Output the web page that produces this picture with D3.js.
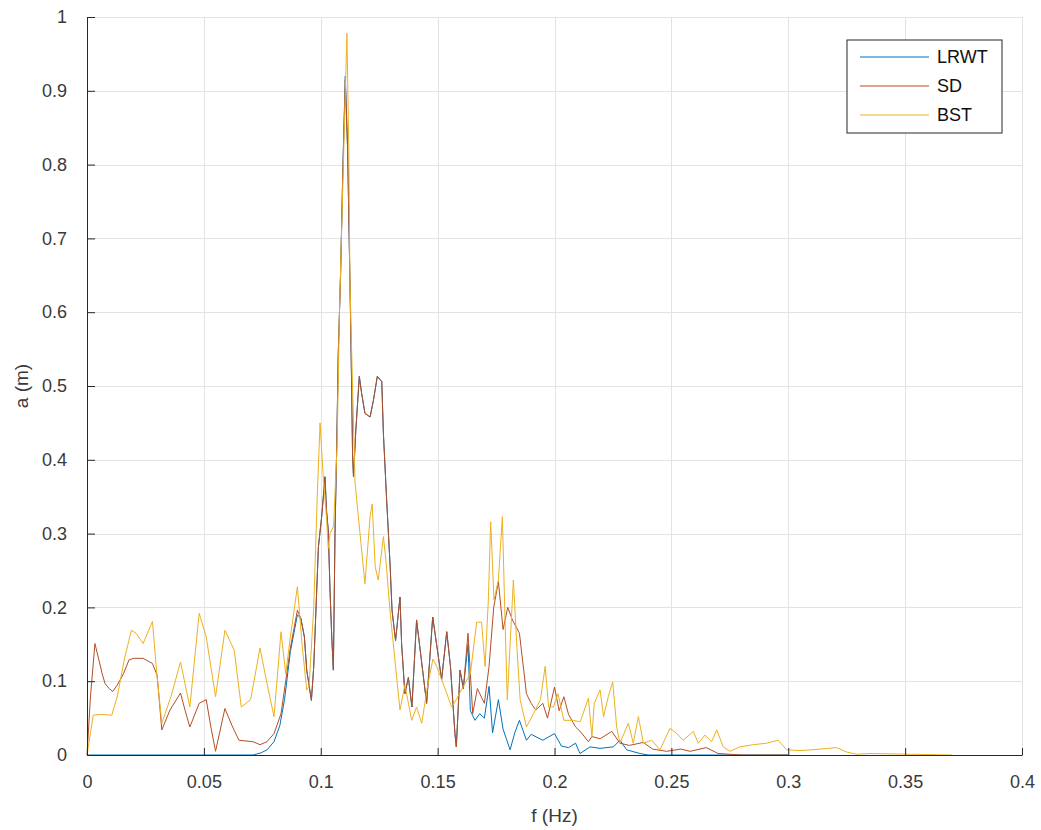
<!DOCTYPE html>
<html>
<head>
<meta charset="utf-8">
<script src="https://d3js.org/d3.v7.min.js"></script>
<style>
  body { margin: 0; background: #fff; }
  svg { font-family: "Liberation Sans", Arial, Helvetica, sans-serif; }
  .grid line { stroke: #e3e3e3; stroke-width: 1; }
  .tick text { fill: #3a3a3a; }
</style>
</head>
<body>
<script>
// spectrum amplitude of three methods, f in Hz, a in m

var seriesNames = ["LRWT", "SD", "BST"];
var seriesColors = ["#0072BD", "#B44E26", "#EDB120"];

var xTicks = [0, 0.05, 0.1, 0.15, 0.2, 0.25, 0.3, 0.35, 0.4];
var yTicks = [0, 0.1, 0.2, 0.3, 0.4, 0.5, 0.6, 0.7, 0.8, 0.9, 1];

var lrwt = [
  [0, 0], [0.071, 0], [0.0745, 0.003], [0.077, 0.007], [0.080, 0.018], [0.0825, 0.04],
  [0.0845, 0.075], [0.087, 0.14], [0.090, 0.19], [0.0915, 0.185], [0.093, 0.16], [0.094, 0.115],
  [0.096, 0.074], [0.097, 0.12], [0.099, 0.282], [0.1004, 0.323], [0.1018, 0.377], [0.1025, 0.33],
  [0.1032, 0.305], [0.104, 0.22], [0.1047, 0.16], [0.1054, 0.115], [0.1061, 0.30], [0.1068, 0.413],
  [0.1075, 0.544], [0.1085, 0.653], [0.1095, 0.80], [0.1105, 0.92], [0.1115, 0.82], [0.1125, 0.639],
  [0.1132, 0.504], [0.1136, 0.409], [0.114, 0.377], [0.115, 0.44], [0.1165, 0.513], [0.1175, 0.49],
  [0.1189, 0.463], [0.1211, 0.458], [0.1225, 0.48], [0.1242, 0.513], [0.1261, 0.506], [0.1268, 0.436],
  [0.1282, 0.345], [0.1297, 0.255], [0.1305, 0.196], [0.132, 0.155], [0.1339, 0.214], [0.1346, 0.15],
  [0.136, 0.083], [0.1375, 0.105], [0.139, 0.065], [0.141, 0.183], [0.143, 0.13], [0.1453, 0.07],
  [0.1479, 0.187], [0.150, 0.14], [0.1517, 0.102], [0.1539, 0.167], [0.1555, 0.12], [0.1574, 0.029],
  [0.158, 0.011], [0.1596, 0.115], [0.161, 0.09], [0.163, 0.15], [0.164, 0.06], [0.166, 0.047],
  [0.168, 0.056], [0.170, 0.05], [0.172, 0.093], [0.1735, 0.03], [0.176, 0.075], [0.178, 0.035],
  [0.181, 0.007], [0.183, 0.03], [0.185, 0.047], [0.188, 0.02], [0.190, 0.028], [0.195, 0.02],
  [0.200, 0.029], [0.203, 0.012], [0.206, 0.01], [0.209, 0.016], [0.2109, 0.002], [0.2152, 0.011],
  [0.2195, 0.009], [0.2252, 0.011], [0.228, 0.02], [0.2309, 0.007], [0.2366, 0.002], [0.24, 0],
  [0.30, 0]
];

var sd = [
  [0, 0], [0.0015, 0.08], [0.0034, 0.151], [0.005, 0.13], [0.0065, 0.11], [0.0077, 0.097],
  [0.0095, 0.09], [0.011, 0.086], [0.013, 0.095], [0.0156, 0.11], [0.018, 0.129], [0.020, 0.131],
  [0.024, 0.131], [0.028, 0.124], [0.030, 0.108], [0.032, 0.034], [0.0355, 0.061], [0.040, 0.084],
  [0.042, 0.06], [0.044, 0.038], [0.048, 0.07], [0.051, 0.075], [0.053, 0.038], [0.055, 0.005],
  [0.059, 0.063], [0.062, 0.04], [0.065, 0.020], [0.068, 0.019], [0.071, 0.018], [0.074, 0.014],
  [0.077, 0.018], [0.080, 0.029], [0.083, 0.056], [0.085, 0.1], [0.087, 0.145], [0.090, 0.196],
  [0.0915, 0.185], [0.093, 0.16], [0.094, 0.115], [0.096, 0.074], [0.097, 0.12], [0.099, 0.282],
  [0.1004, 0.323], [0.1018, 0.377], [0.1025, 0.33], [0.1032, 0.305], [0.104, 0.22], [0.1047, 0.16],
  [0.1054, 0.115], [0.1061, 0.30], [0.1068, 0.413], [0.1075, 0.544], [0.1085, 0.653], [0.1095, 0.80],
  [0.1105, 0.915], [0.1115, 0.82], [0.1125, 0.639], [0.1132, 0.504], [0.1136, 0.409], [0.114, 0.377],
  [0.115, 0.44], [0.1165, 0.513], [0.1175, 0.49], [0.1189, 0.463], [0.1211, 0.458], [0.1225, 0.48],
  [0.1242, 0.513], [0.1261, 0.506], [0.1268, 0.436], [0.1282, 0.345], [0.1297, 0.255], [0.1305, 0.196],
  [0.132, 0.155], [0.1339, 0.214], [0.1346, 0.15], [0.136, 0.083], [0.1375, 0.105], [0.139, 0.065],
  [0.141, 0.183], [0.143, 0.13], [0.1453, 0.07], [0.1479, 0.187], [0.150, 0.14], [0.1517, 0.102],
  [0.1539, 0.167], [0.1555, 0.12], [0.1574, 0.029], [0.158, 0.011], [0.1596, 0.115], [0.161, 0.09],
  [0.163, 0.165], [0.165, 0.056], [0.167, 0.09], [0.170, 0.07], [0.172, 0.12], [0.174, 0.2],
  [0.176, 0.235], [0.178, 0.17], [0.180, 0.2], [0.182, 0.183], [0.185, 0.165], [0.188, 0.083],
  [0.190, 0.07], [0.192, 0.061], [0.195, 0.07], [0.197, 0.05], [0.200, 0.092], [0.202, 0.06],
  [0.204, 0.079], [0.206, 0.055], [0.209, 0.038], [0.211, 0.032], [0.2145, 0.018], [0.216, 0.025],
  [0.2195, 0.022], [0.2245, 0.032], [0.228, 0.016], [0.232, 0.013], [0.238, 0.017], [0.242, 0.008],
  [0.248, 0.005], [0.254, 0.008], [0.258, 0.005], [0.265, 0.010], [0.270, 0.002], [0.280, 0],
  [0.30, 0]
];

var bst = [
  [0, 0], [0.0027, 0.054], [0.006, 0.055], [0.0106, 0.054], [0.013, 0.08], [0.016, 0.13],
  [0.019, 0.169], [0.021, 0.165], [0.024, 0.151], [0.028, 0.181], [0.030, 0.106], [0.032, 0.043],
  [0.036, 0.08], [0.040, 0.126], [0.044, 0.065], [0.048, 0.192], [0.051, 0.16], [0.055, 0.079],
  [0.059, 0.169], [0.063, 0.142], [0.066, 0.065], [0.070, 0.075], [0.074, 0.145], [0.077, 0.097],
  [0.080, 0.052], [0.083, 0.167], [0.085, 0.11], [0.087, 0.16], [0.090, 0.228], [0.092, 0.15],
  [0.094, 0.088], [0.095, 0.093], [0.097, 0.2], [0.0985, 0.35], [0.0997, 0.45], [0.101, 0.38],
  [0.1025, 0.32], [0.1032, 0.28], [0.104, 0.30], [0.1055, 0.31], [0.107, 0.42], [0.108, 0.6],
  [0.1095, 0.78], [0.1112, 0.978], [0.112, 0.82], [0.1125, 0.64], [0.1132, 0.55], [0.114, 0.45],
  [0.1147, 0.368], [0.1168, 0.30], [0.1189, 0.232], [0.1211, 0.323], [0.122, 0.34], [0.1233, 0.255],
  [0.1246, 0.237], [0.1268, 0.296], [0.128, 0.26], [0.1296, 0.196], [0.132, 0.12], [0.1339, 0.061],
  [0.136, 0.095], [0.1389, 0.047], [0.141, 0.065], [0.1432, 0.043], [0.1455, 0.09], [0.148, 0.13],
  [0.1496, 0.12], [0.152, 0.1], [0.156, 0.065], [0.158, 0.075], [0.161, 0.093], [0.164, 0.11],
  [0.1667, 0.18], [0.1688, 0.18], [0.1703, 0.12], [0.1717, 0.21], [0.1727, 0.316], [0.1741, 0.21],
  [0.176, 0.237], [0.1777, 0.323], [0.1788, 0.187], [0.1798, 0.075], [0.1824, 0.237], [0.184, 0.142],
  [0.1853, 0.075], [0.188, 0.038], [0.191, 0.056], [0.194, 0.075], [0.196, 0.12], [0.1975, 0.065],
  [0.1995, 0.065], [0.2015, 0.083], [0.204, 0.047], [0.208, 0.047], [0.211, 0.045], [0.2145, 0.077],
  [0.216, 0.025], [0.217, 0.07], [0.2195, 0.088], [0.221, 0.052], [0.223, 0.079], [0.2249, 0.099],
  [0.2266, 0.038], [0.228, 0.016], [0.2316, 0.043], [0.2337, 0.016], [0.2359, 0.052], [0.238, 0.016],
  [0.2416, 0.02], [0.2451, 0.007], [0.2494, 0.036], [0.2523, 0.029], [0.2551, 0.02], [0.2594, 0.032],
  [0.2615, 0.016], [0.2644, 0.027], [0.2672, 0.018], [0.2694, 0.034], [0.2722, 0.011], [0.2751, 0.005],
  [0.2793, 0.011], [0.2851, 0.014], [0.2908, 0.016], [0.2957, 0.020], [0.2993, 0.007], [0.305, 0.006],
  [0.310, 0.007], [0.3207, 0.010], [0.325, 0.004], [0.3293, 0.001], [0.335, 0.002], [0.37, 0]
];

var allSeries = [lrwt, sd, bst];

var margin = {top: 17, right: 19, bottom: 75, left: 87},
    width = 1041 - margin.left - margin.right,
    height = 830 - margin.top - margin.bottom;

var svg = d3.select("body").append("svg")
    .attr("width", 1041)
    .attr("height", 830);

var g = svg.append("g")
    .attr("transform", "translate(" + margin.left + "," + margin.top + ")");

var x = d3.scaleLinear().domain([0, 0.4]).range([0, width]);
var y = d3.scaleLinear().domain([0, 1]).range([height, 0]);

// grid
g.append("g").attr("class", "grid")
  .selectAll("line").data(xTicks)
  .enter().append("line")
    .attr("x1", function(d) { return Math.round(x(d)) + 0.5; })
    .attr("x2", function(d) { return Math.round(x(d)) + 0.5; })
    .attr("y1", 0).attr("y2", height);

g.append("g").attr("class", "grid")
  .selectAll("line").data(yTicks)
  .enter().append("line")
    .attr("y1", function(d) { return Math.round(y(d)) + 0.5; })
    .attr("y2", function(d) { return Math.round(y(d)) + 0.5; })
    .attr("x1", 0).attr("x2", width);

// lines
var line = d3.line()
    .x(function(d) { return x(d[0]); })
    .y(function(d) { return y(d[1]); });

g.selectAll(".series")
  .data(allSeries)
  .enter().append("path")
    .attr("class", "series")
    .attr("d", line)
    .attr("fill", "none")
    .attr("stroke", function(d, i) { return seriesColors[i]; })
    .attr("stroke-width", 1)
    .attr("stroke-linejoin", "round");

// axes, ticks pointing inward like matlab
var xAxis = d3.axisBottom(x).tickValues(xTicks)
    .tickFormat(function(d) { return d3.format("")(+d.toFixed(2)); })
    .tickSizeInner(-7).tickSizeOuter(0).tickPadding(20);
var yAxis = d3.axisLeft(y).tickValues(yTicks)
    .tickFormat(function(d) { return d3.format("")(+d.toFixed(1)); })
    .tickSizeInner(-8).tickSizeOuter(0).tickPadding(20);

var gx = g.append("g")
    .attr("transform", "translate(0," + height + ")")
    .call(xAxis);
var gy = g.append("g").call(yAxis);

[gx, gy].forEach(function(a) {
  a.attr("font-family", null).attr("font-size", 18);
  a.select(".domain").attr("stroke", "#262626");
  a.selectAll(".tick line").attr("stroke", "#262626");
});

// axis labels
svg.append("text")
    .attr("x", margin.left + width / 2)
    .attr("y", 822)
    .attr("text-anchor", "middle")
    .attr("font-size", 19)
    .attr("fill", "#3a3a3a")
    .text("f (Hz)");

svg.append("text")
    .attr("transform", "translate(28," + (margin.top + height / 2) + ") rotate(-90)")
    .attr("text-anchor", "middle")
    .attr("font-size", 19)
    .attr("fill", "#3a3a3a")
    .text("a (m)");

// legend
var legend = svg.append("g").attr("transform", "translate(847,40)");
legend.append("rect")
    .attr("width", 155).attr("height", 93)
    .attr("fill", "#fff")
    .attr("stroke", "#262626");

var item = legend.selectAll(".item")
  .data(seriesNames)
  .enter().append("g")
    .attr("transform", function(d, i) { return "translate(0," + (17 + i * 29) + ")"; });

item.append("line")
    .attr("x1", 13).attr("x2", 82)
    .attr("stroke", function(d, i) { return seriesColors[i]; })
    .attr("stroke-width", 1.2);

item.append("text")
    .attr("x", 90)
    .attr("dy", "0.35em")
    .attr("font-size", 18)
    .attr("fill", "#111")
    .text(function(d) { return d; });
</script>
</body>
</html>
